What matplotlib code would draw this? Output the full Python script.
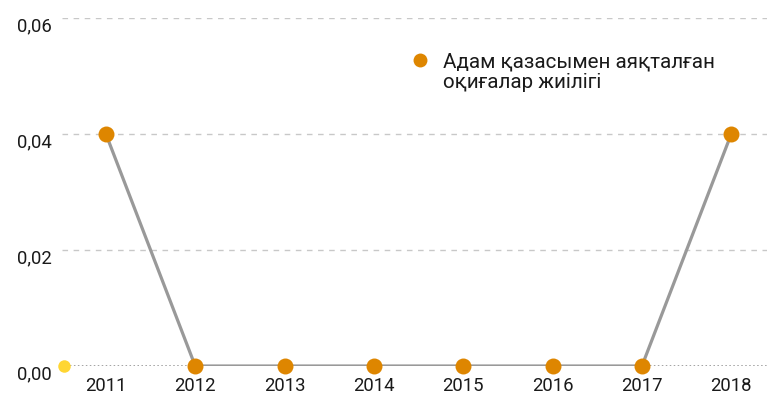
import matplotlib.pyplot as plt
import matplotlib.transforms as mtransforms

plt.rcParams['font.family'] = ['Roboto', 'DejaVu Sans']

# data
years = [2011, 2012, 2013, 2014, 2015, 2016, 2017, 2018]
freq = [0.04, 0.0, 0.0, 0.0, 0.0, 0.0, 0.0, 0.04]
y_ticks = [0.0, 0.02, 0.04, 0.06]
y_labels = ['0,00', '0,02', '0,04', '0,06']
legend_lines = ['Адам қазасымен аяқталған', 'оқиғалар жиілігі']

x_min, x_max = 2010.51, 2018.4
orange = '#de8600'

fig = plt.figure(figsize=(7.67, 4), dpi=100)
ax = fig.add_axes([0.081, 0.085, 0.919, 0.87])

# grid lines
for t in y_ticks[1:]:
    ax.axhline(t, color='#c8c8c8', lw=1, ls=(0, (4, 4)), zorder=0)
ax.axhline(0, color='#8a8a8a', lw=1.1, ls=(0, (1, 1.6)), zorder=0)

ax.plot(years, freq, color='#999999', lw=2.3, zorder=2)
ax.plot(years, freq, 'o', color=orange, ms=11.5, mec='none', zorder=3,
        clip_on=False)
# start marker on the baseline
ax.plot([x_min + 0.02], [0], 'o', color='#ffd633', ms=9, mec='none',
        clip_on=False, zorder=3)

ax.set_xlim(x_min, x_max)
ax.set_ylim(0, 0.06)
ax.set_xticks(years)
ax.set_xticklabels([str(y) for y in years])
ax.set_yticks(y_ticks)
ax.set_yticklabels(y_labels)
ax.tick_params(length=0, labelsize=13.3, colors='#1a1a1a')
ax.tick_params(axis='x', pad=8)
ax.tick_params(axis='y', pad=7.5)
off = mtransforms.ScaledTranslation(0, -6 / 100, fig.dpi_scale_trans)
for lab in ax.get_yticklabels():
    lab.set_transform(lab.get_transform() + off)
for s in ax.spines.values():
    s.set_visible(False)

# legend, handle aligned with the first line
fig.lines.append(plt.Line2D([420 / 767], [1 - 60 / 400], marker='o', color=orange,
                            ms=10, mec='none', transform=fig.transFigure))
for i, line in enumerate(legend_lines):
    fig.text(443 / 767, 1 - (62 + 21 * i) / 400, line, fontsize=14.8,
             color='#1a1a1a', va='center', ha='left')

fig.savefig('out.png', dpi=100)
